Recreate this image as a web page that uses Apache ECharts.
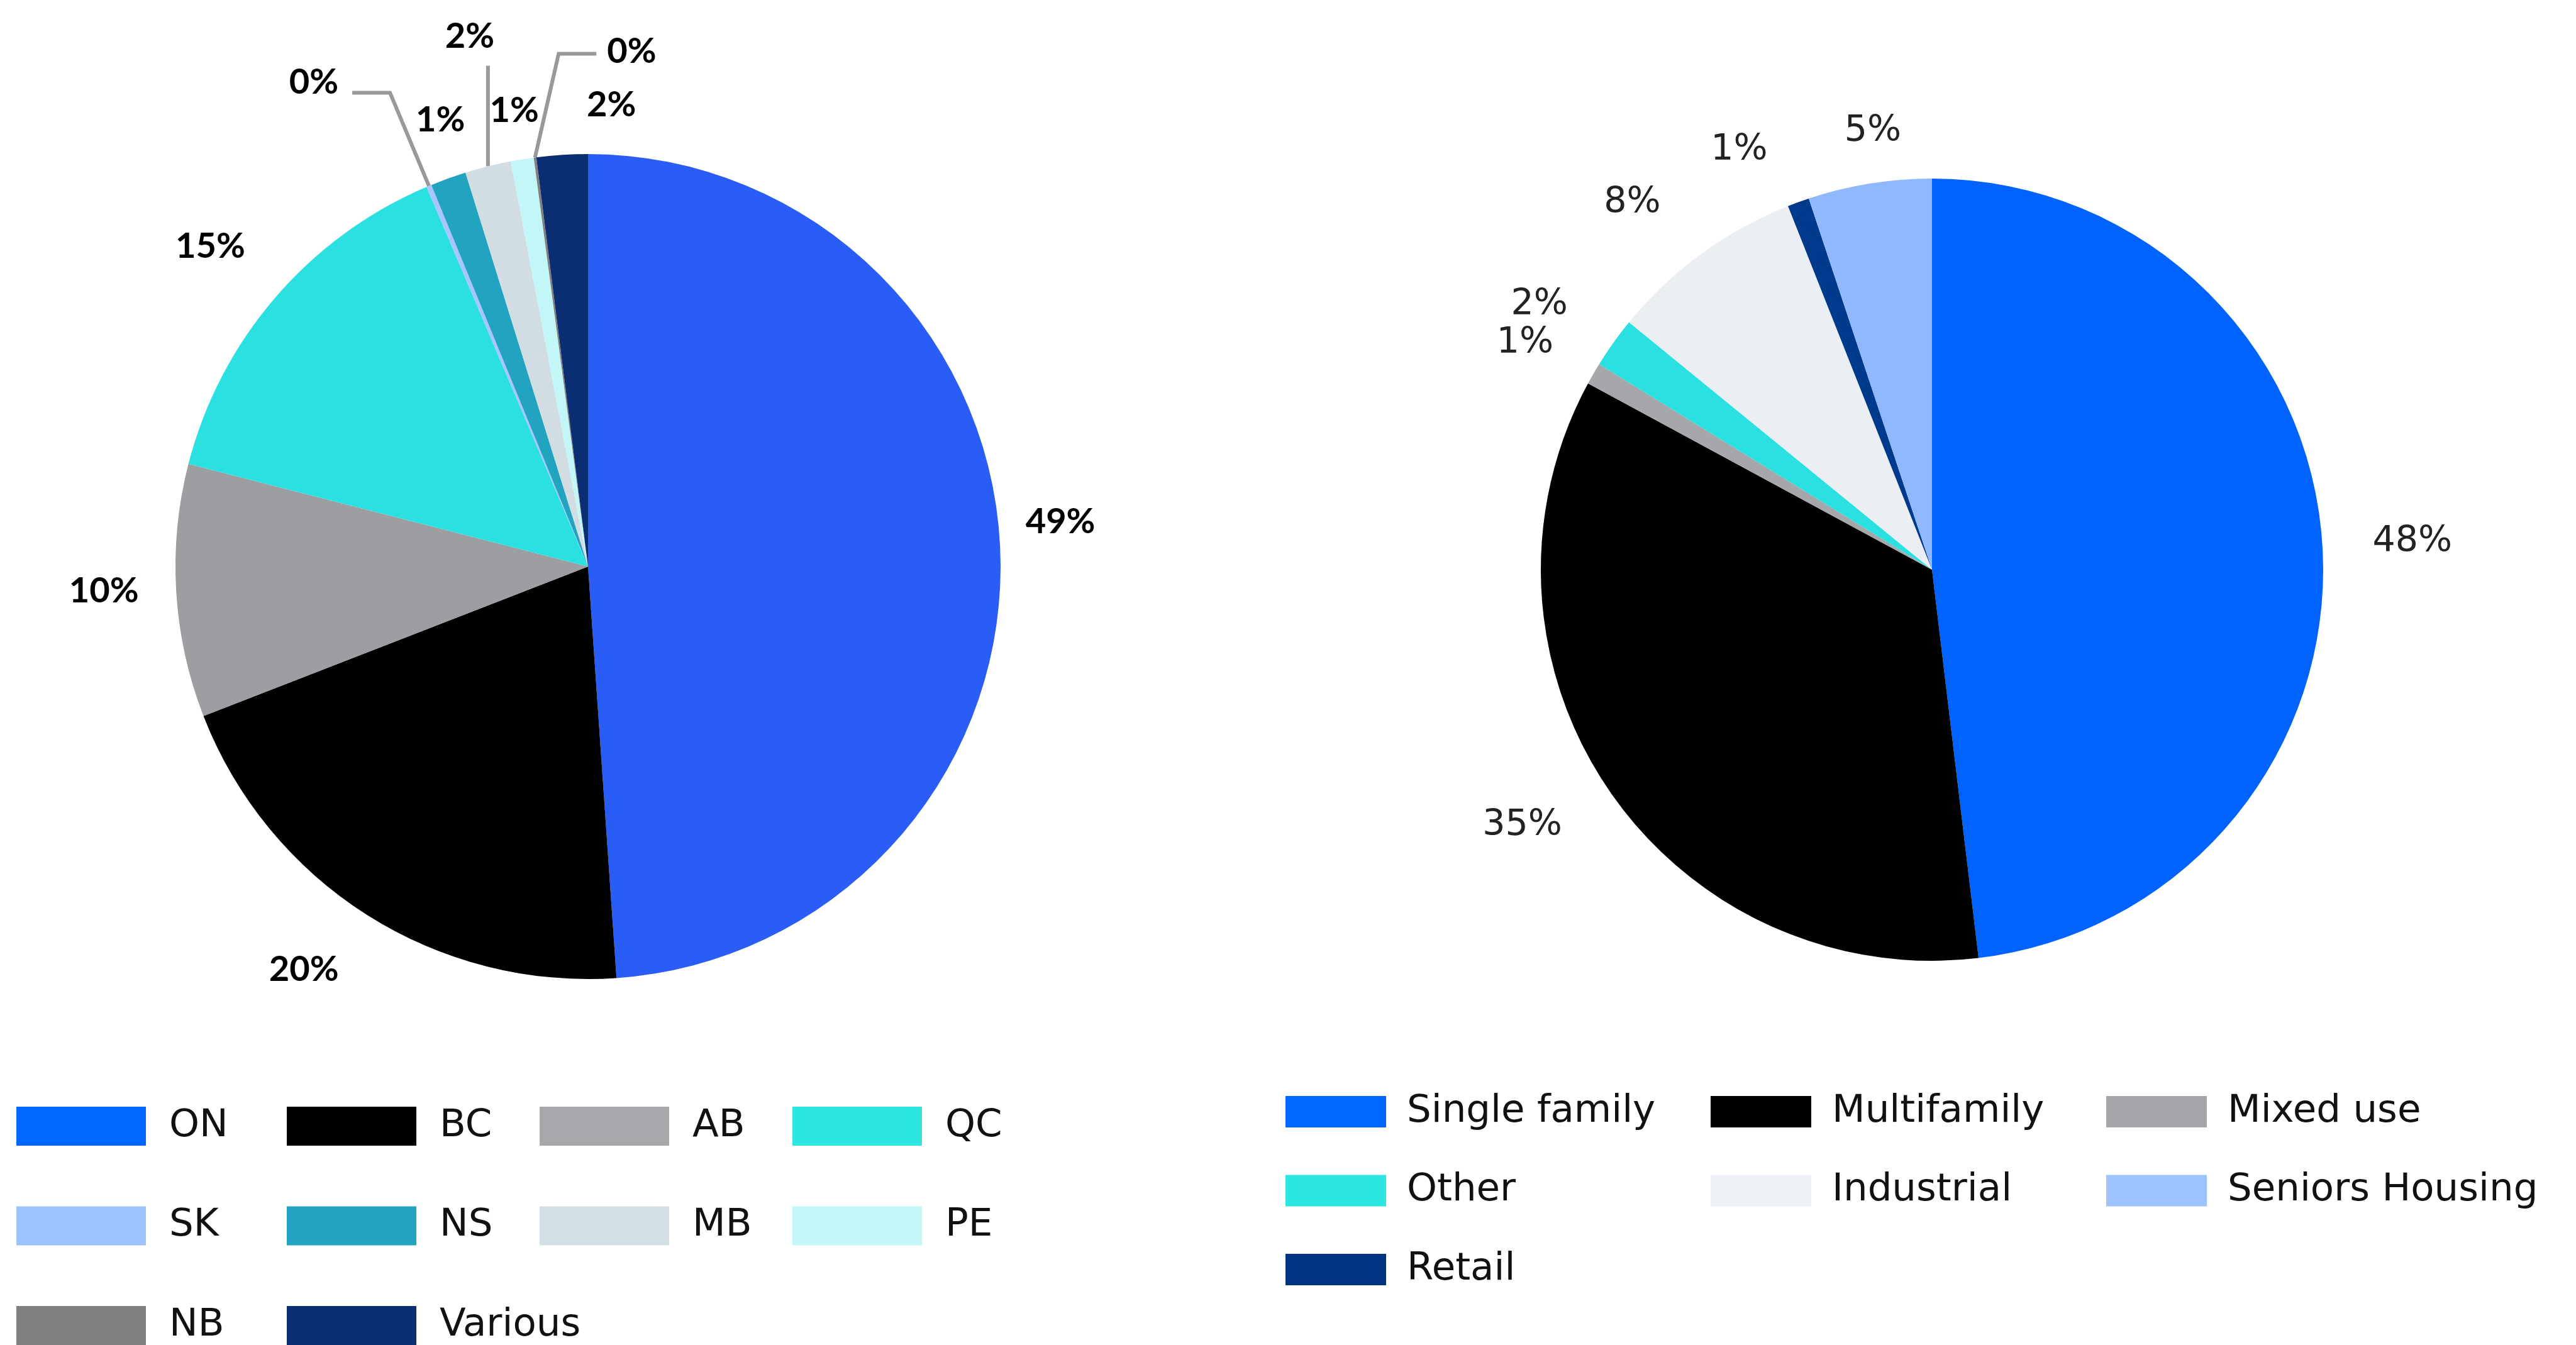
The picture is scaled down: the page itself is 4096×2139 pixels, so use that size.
<!DOCTYPE html>
<html>
<head>
<meta charset="utf-8">
<script src="https://cdn.jsdelivr.net/npm/echarts@6/dist/echarts.min.js"></script>
<style>
html,body{margin:0;padding:0;background:#ffffff;}
#chart{width:4096px;height:2139px;}
</style>
</head>
<body>
<div id="chart"></div>
<script>
// ---------------- DATA ----------------
const provinceNames  = ['ON', 'BC', 'AB', 'QC', 'SK', 'NS', 'MB', 'PE', 'NB', 'Various'];
const provinceShares = [48.9, 20.2, 9.9, 14.6, 0.2, 1.4, 1.8, 0.9, 0.1, 2.0];

const propertyNames  = ['Single family', 'Multifamily', 'Mixed use', 'Other', 'Industrial', 'Retail', 'Seniors Housing'];
const propertyShares = [48.1, 34.8, 0.9, 2.1, 8.1, 0.9, 5.1];

// legend grids (columns of names)
const provinceLegendColumns = [['ON', 'SK', 'NB'], ['BC', 'NS', 'Various'], ['AB', 'MB'], ['QC', 'PE']];
const propertyLegendColumns = [['Single family', 'Other', 'Retail'], ['Multifamily', 'Industrial'], ['Mixed use', 'Seniors Housing']];

// ---------------- STYLES ----------------
const provinceColors = ['#2A5CF6', '#000000', '#9D9EA2', '#2BE0E0', '#A9C4FF', '#22A3BF', '#D1DCE3', '#C3F6F6', '#808080', '#0B2D72'];
const provinceLegendColors = ['#0066FF', '#000000', '#A6A8AB', '#2EE6E0', '#9CC3FB', '#22A3BF', '#D3DEE4', '#C3F6F6', '#808080', '#0A2D74'];
const propertyColors = ['#0062FF', '#000000', '#A5A7AA', '#2BE0E0', '#EBEEF3', '#003A8C', '#8FB8FF'];
const propertyLegendColors = ['#0066FF', '#000000', '#A5A7AA', '#2EE6E0', '#EDF0F4', '#003380', '#9CC3FB'];

const LEFT = {cx: 935, cy: 901, r: 656};
const RIGHT = {cx: 3072, cy: 906, r: 622};

// label placement (radius factor, angle offset in degrees, optional leader line)
const provinceLabelCfg = [
  {rf: 1.15, da: -3.4},
  {rf: 1.195, da: 2.8},
  {rf: 1.175, da: 0.5},
  {rf: 1.2, da: -0.4},
  {line: 'elbow', rf: 1.245, da: 0, h: -60, gap: 22, dy: -16},
  {rf: 1.14, da: 1.5},
  {line: 'vertical', len: 160, dx: -29, dy: -47},
  {rf: 1.12, da: 0},
  {line: 'elbow', rf: 1.245, da: 4.1, h: 60, gap: 17, dy: -4},
  {rf: 1.12, da: 6.5}
];
const propertyLabelCfg = [
  {rf: 1.23, da: 0.1},
  {rf: 1.235, da: 2.2},
  {rf: 1.19, da: -1},
  {rf: 1.21, da: -1.5},
  {rf: 1.21, da: -3.1},
  {rf: 1.18, da: -4.7},
  {rf: 1.13, da: 1.5}
];

function makeLabelLayout(values, cfgs, geo) {
  const total = values.reduce((a, b) => a + b, 0);
  const mids = [];
  let acc = 0;
  values.forEach(v => {
    const a0 = acc / total * 360;
    acc += v;
    const a1 = acc / total * 360;
    mids.push((a0 + a1) / 2);
  });
  const pt = (deg, rad) => [geo.cx + rad * Math.sin(deg * Math.PI / 180), geo.cy - rad * Math.cos(deg * Math.PI / 180)];
  return function (p) {
    const i = p.dataIndex, c = cfgs[i], m = mids[i];
    if (!c.line) {
      const q = pt(m + c.da, geo.r * c.rf);
      return {x: q[0], y: q[1], align: 'center', verticalAlign: 'middle'};
    }
    const p0 = pt(m, geo.r);
    if (c.line === 'elbow') {
      const p1 = pt(m + c.da, geo.r * c.rf);
      const p2 = [p1[0] + c.h, p1[1]];
      return {
        x: p2[0] + Math.sign(c.h) * c.gap, y: p2[1] + c.dy,
        align: c.h < 0 ? 'right' : 'left', verticalAlign: 'middle',
        labelLinePoints: [p0, p1, p2]
      };
    }
    const p1 = [p0[0], p0[1] - c.len];
    return {
      x: p1[0] + c.dx, y: p1[1] + c.dy, align: 'center', verticalAlign: 'middle',
      labelLinePoints: [p0, p1, p1]
    };
  };
}

function buildData(names, values, colors, cfgs) {
  return names.map((n, i) => ({
    name: n,
    value: values[i],
    itemStyle: {color: colors[i]},
    labelLine: {show: !!cfgs[i].line}
  }));
}

const TEXT_DROP = 16;
function buildLegends(columns, names, colors, lefts, top, iw, ih, gap, pad, fs) {
  return columns.map((col, k) => ({
    type: 'plain',
    orient: 'vertical',
    left: lefts[k],
    top: top,
    height: 700,
    padding: 0,
    itemWidth: iw,
    itemHeight: ih,
    itemGap: gap - TEXT_DROP,
    icon: 'rect',
    selectedMode: false,
    data: col.map(n => ({name: n, itemStyle: {color: colors[names.indexOf(n)]}})),
    textStyle: {
      fontFamily: 'DejaVu Sans',
      fontSize: fs,
      color: '#111111',
      lineHeight: ih,
      verticalAlign: 'middle',
      padding: [TEXT_DROP, 0, 0, pad]
    }
  }));
}

const chart = echarts.init(document.getElementById('chart'), null, {renderer: 'canvas'});

const option = {
  backgroundColor: '#ffffff',
  animation: false,
  legend: [].concat(
    buildLegends(provinceLegendColumns, provinceNames, provinceLegendColors, [26, 456, 858, 1260], 1752, 206, 62, 96.5, 32, 61),
    buildLegends(propertyLegendColumns, propertyNames, propertyLegendColors, [2044, 2720, 3349], 1735, 160, 50, 75.5, 28, 61)
  ),
  series: [
    {
      type: 'pie',
      center: [LEFT.cx, LEFT.cy],
      radius: [0, LEFT.r],
      startAngle: 90,
      clockwise: true,
      avoidLabelOverlap: false,
      emphasis: {disabled: true},
      label: {
        show: true,
        position: 'outside',
        formatter: p => Math.round(p.value) + '%',
        fontFamily: 'Lato',
        fontWeight: 'bold',
        fontSize: 56,
        color: '#000000'
      },
      labelLine: {show: false, length: 10, length2: 10, lineStyle: {color: '#999999', width: 6}},
      labelLayout: makeLabelLayout(provinceShares, provinceLabelCfg, LEFT),
      data: buildData(provinceNames, provinceShares, provinceColors, provinceLabelCfg)
    },
    {
      type: 'pie',
      center: [RIGHT.cx, RIGHT.cy],
      radius: [0, RIGHT.r],
      startAngle: 90,
      clockwise: true,
      avoidLabelOverlap: false,
      emphasis: {disabled: true},
      label: {
        show: true,
        position: 'outside',
        formatter: p => Math.round(p.value) + '%',
        fontFamily: 'DejaVu Sans',
        fontSize: 57,
        color: '#222222'
      },
      labelLine: {show: false},
      labelLayout: makeLabelLayout(propertyShares, propertyLabelCfg, RIGHT),
      data: buildData(propertyNames, propertyShares, propertyColors, propertyLabelCfg)
    }
  ]
};

chart.setOption(option);
</script>
</body>
</html>
